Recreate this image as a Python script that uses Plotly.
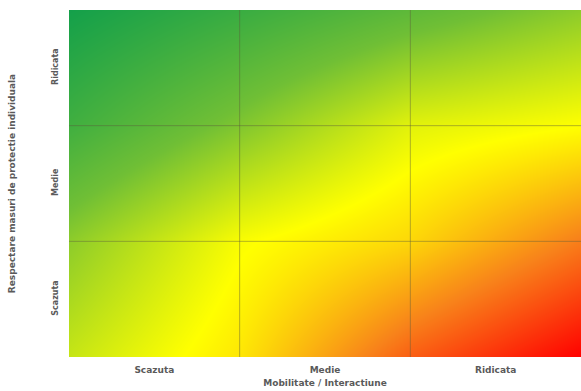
import plotly.graph_objects as go

categories = ["Scazuta", "Medie", "Ridicata"]

# risk level at the cell corners (0 = green, 0.5 = yellow, 1 = red)
# rows from bottom (Scazuta) to top (Ridicata), columns left to right
risk_bottom = [0.40, 0.55, 0.82, 1.00]
risk_low_mid = [0.30, 0.49, 0.58, 0.76]
risk_high_mid = [0.12, 0.28, 0.45, 0.50]
risk_top = [0.00, 0.10, 0.20, 0.30]

z = [risk_bottom, risk_low_mid, risk_high_mid, risk_top]
nodes = list(range(len(categories) + 1))

fig = go.Figure(
    go.Heatmap(
        x=nodes,
        y=nodes,
        z=z,
        zmin=0,
        zmax=1,
        zsmooth="best",
        colorscale=[
            [0.0, "#14a04a"],
            [0.25, "#70bf35"],
            [0.5, "#ffff00"],
            [0.75, "#f8821a"],
            [1.0, "#ff0000"],
        ],
        showscale=False,
        hoverinfo="skip",
    )
)

# grid lines on the category boundaries
for i in range(1, len(categories)):
    fig.add_shape(type="line", xref="x", yref="paper", x0=i, x1=i, y0=0, y1=1,
                  line=dict(color="rgba(90,90,60,0.45)", width=1), layer="above")
    fig.add_shape(type="line", xref="paper", yref="y", x0=0, x1=1, y0=i, y1=i,
                  line=dict(color="rgba(90,90,60,0.45)", width=1), layer="above")

centers = [i + 0.5 for i in range(len(categories))]
x_font = dict(family="DejaVu Sans", size=9, color="#5a5a5a", weight="bold")
y_font = dict(family="DejaVu Sans", size=8, color="#5a5a5a", weight="bold")

fig.update_xaxes(
    range=[0, len(categories)],
    tickvals=centers,
    ticktext=categories,
    showgrid=False,
    zeroline=False,
    ticks="",
    automargin=False,
    ticklabelstandoff=6,
    tickfont=x_font,
    title=dict(text="Mobilitate / Interactiune", font=x_font, standoff=5),
)
fig.update_yaxes(
    range=[0, len(categories)],
    tickvals=centers,
    ticktext=categories,
    tickangle=-90,
    showgrid=False,
    zeroline=False,
    ticks="",
    automargin=False,
    ticklabelstandoff=8,
    tickfont=y_font,
    title=dict(text="Respectare masuri de protectie individuala", font=x_font, standoff=34),
)

fig.update_layout(
    width=581,
    height=391,
    margin=dict(l=69, r=0, t=10, b=34),
    paper_bgcolor="white",
    plot_bgcolor="white",
)

fig.write_html(
    "out.html",
    config={"displayModeBar": False},
    post_script="document.body.style.margin = '0';",
)
